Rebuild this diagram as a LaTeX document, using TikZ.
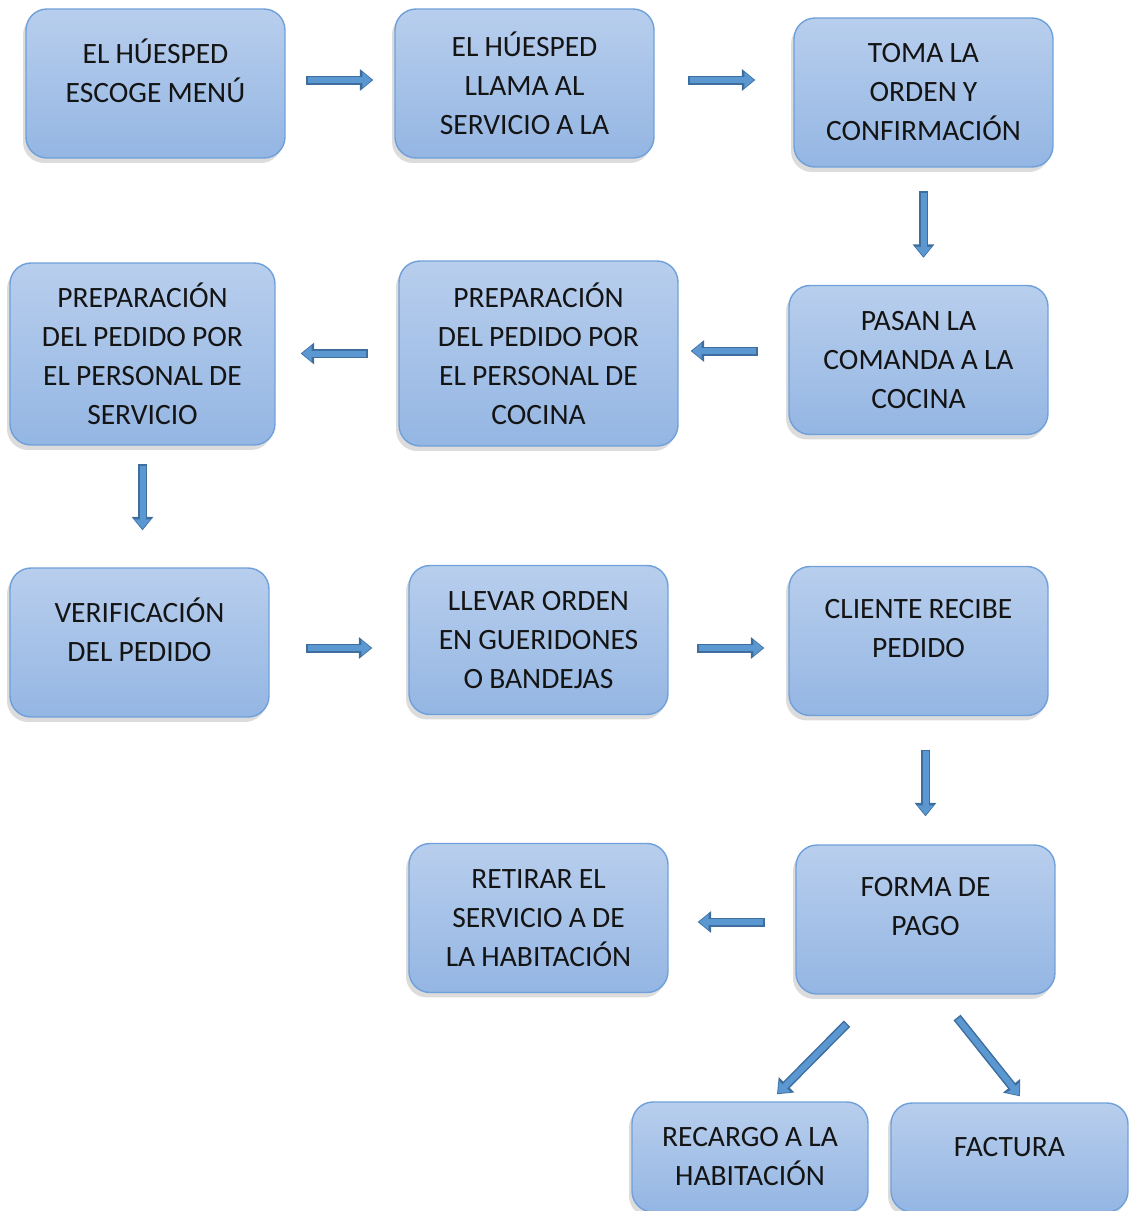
\documentclass[tikz,border=0pt]{standalone}
\usepackage{fontspec}
\setmainfont{Carlito}
\usetikzlibrary{arrows.meta,calc,shadows}
\definecolor{boxtop}{RGB}{184,206,237}
\definecolor{boxbot}{RGB}{148,182,227}
\definecolor{boxedge}{RGB}{112,160,218}
\definecolor{arrowfill}{RGB}{91,152,210}
\definecolor{arrowedge}{RGB}{62,110,158}
\definecolor{boxtext}{RGB}{20,20,20}
\newlength{\wordgap}
\setlength{\wordgap}{3.5pt}
\begin{document}
\begin{tikzpicture}[x=0.02cm, y=-0.02cm,
  stepbox/.style={draw=boxedge, line width=0.8pt, rounded corners=0.42cm,
    top color=boxtop, bottom color=boxbot,
    drop shadow={shadow xshift=-0.06cm, shadow yshift=-0.1cm, opacity=0.28},
    minimum width=5.18cm, minimum height=2.98cm, inner sep=0pt,
    text width=4.6cm, align=center, text=boxtext,
    font=\fontsize{16.8}{22.2}\selectfont,
    execute at begin node={\spaceskip=\wordgap\relax}},
  lift/.style={execute at end node={\endgraf\vspace*{#1}}},
  blockarrow/.style 2 args={draw=arrowfill, line width=0.12cm,
    shorten <=#1, shorten >=#2+0.03cm,
    -{Triangle[width=0.31cm,length=0.19cm]},
    preaction={draw=arrowedge, line width=0.18cm,
      shorten <=#1-0.03cm, shorten >=#2,
      -{Triangle[width=0.42cm,length=0.27cm]}}}]
  \useasboundingbox (0,0) rectangle (1129,1211);
  \clip (0,0) rectangle (1129,1211);
  % first row
  \node[stepbox, lift=0.52cm] (huesped) at (155.5,83.5) {EL HÚESPED\\ESCOGE MENÚ};
  \node[stepbox] (llama) at (524.5,83.5) {EL HÚESPED\\LLAMA AL\\SERVICIO A LA};
  \node[stepbox] (toma) at (923.5,92.5) {TOMA LA\\ORDEN Y\\CONFIRMACIÓN};
  % second row, right to left
  \node[stepbox] (pasan) at (918.5,360) {PASAN LA\\COMANDA A LA\\COCINA};
  \node[stepbox, minimum width=5.58cm, minimum height=3.7cm] (cocina) at (538.5,353.5)
    {PREPARACIÓN\\DEL PEDIDO POR\\EL PERSONAL DE\\COCINA};
  \node[stepbox, minimum width=5.3cm, minimum height=3.64cm] (servicio) at (142.5,354)
    {PREPARACIÓN\\DEL PEDIDO POR\\EL PERSONAL DE\\SERVICIO};
  % third row
  \node[stepbox, lift=0.52cm] (verifica) at (139.5,642.5) {VERIFICACIÓN\\DEL PEDIDO};
  \node[stepbox] (llevar) at (538.5,640) {LLEVAR ORDEN\\EN GUERIDONES\\O BANDEJAS};
  \node[stepbox, lift=0.48cm] (recibe) at (918.5,641) {CLIENTE RECIBE\\PEDIDO};
  % fourth row
  \node[stepbox, lift=0.52cm] (pago) at (925.5,919.5) {FORMA DE\\PAGO};
  \node[stepbox] (retirar) at (538.5,918) {RETIRAR EL\\SERVICIO A DE\\LA HABITACIÓN};
  % payment options, cut by the lower edge
  \node[stepbox, minimum width=4.72cm, minimum height=2.2cm] (recargo) at (750,1157)
    {RECARGO A LA\\HABITACIÓN};
  \node[stepbox, minimum width=4.74cm, minimum height=2.18cm, lift=0.42cm] (factura) at (1009.5,1157.5)
    {FACTURA};
  % block arrows
  \draw[blockarrow={0.44cm}{0.42cm}] ($(huesped.east)+(0,-3.5)$) -- ($(llama.west)+(0,-3.5)$);
  \draw[blockarrow={0.70cm}{0.76cm}] ($(llama.east)+(0,-3.5)$) -- ($(llama.east -| toma.west)+(0,-3.5)$);
  \draw[blockarrow={0.50cm}{0.54cm}] (toma.south) -- (toma.south |- pasan.north);
  \draw[blockarrow={0.64cm}{0.24cm}] ($(cocina.east -| pasan.west)+(0,-2.5)$) -- ($(cocina.east)+(0,-2.5)$);
  \draw[blockarrow={0.64cm}{0.50cm}] (cocina.west) -- (cocina.west -| servicio.east);
  \draw[blockarrow={0.40cm}{0.74cm}] (servicio.south) -- (servicio.south |- verifica.north);
  \draw[blockarrow={0.76cm}{0.72cm}] ($(verifica.east)+(0,5.5)$) -- ($(verifica.east -| llevar.west)+(0,5.5)$);
  \draw[blockarrow={0.60cm}{0.48cm}] ($(llevar.east)+(0,8)$) -- ($(llevar.east -| recibe.west)+(0,8)$);
  \draw[blockarrow={0.70cm}{0.56cm}] (pago.north |- recibe.south) -- (pago.north);
  \draw[blockarrow={0.64cm}{0.58cm}] ($(pago.west)+(0,2.5)$) -- ($(pago.west -| retirar.east)+(0,2.5)$);
  \draw[blockarrow={0cm}{0cm}] ($(pago.south)+(-79.5,30)$) -- ($(recargo.north)+(27,-7)$);
  \draw[blockarrow={0cm}{0cm}] ($(pago.south)+(32.5,24)$) -- ($(factura.north)+(10.5,-6)$);
\end{tikzpicture}
\end{document}
